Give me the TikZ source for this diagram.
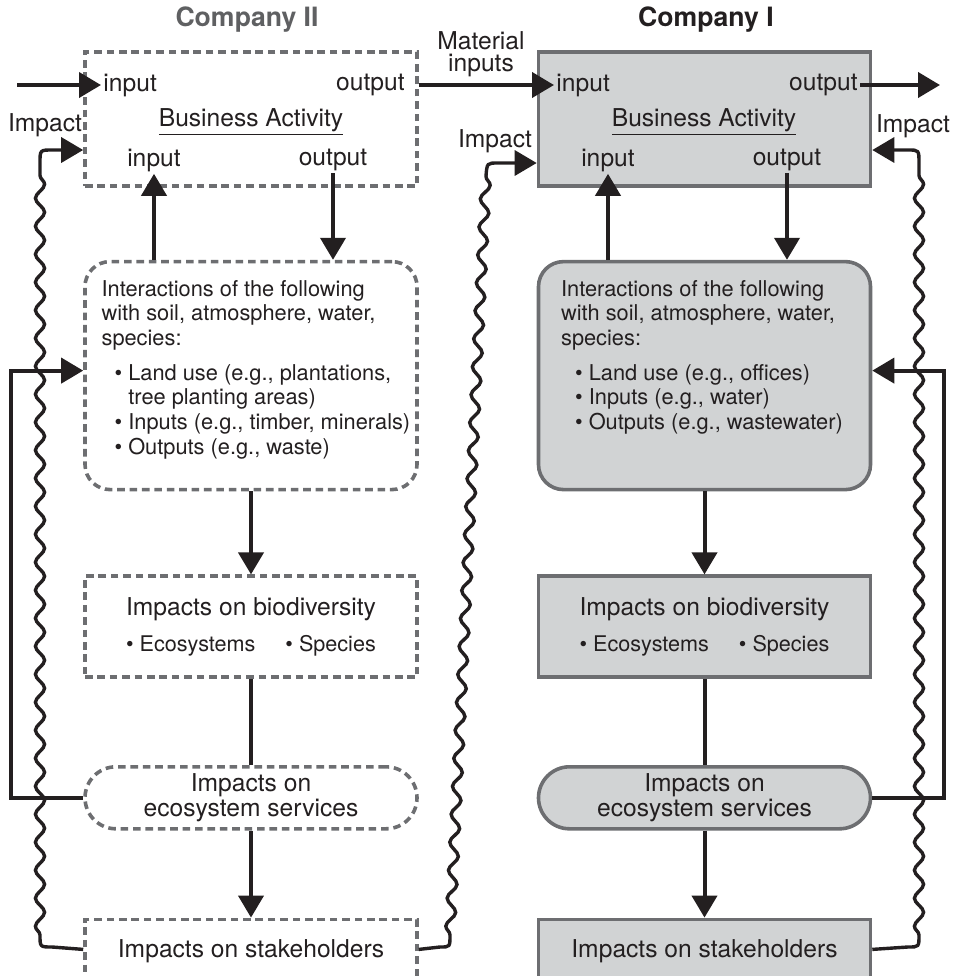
\documentclass[tikz,border=0pt]{standalone}
\usepackage{fontspec}
\setmainfont{TeX Gyre Heros}
\usepackage{tikz}
\usetikzlibrary{positioning,arrows.meta,decorations.pathmorphing}

\definecolor{boxgray}{HTML}{D1D3D4}
\definecolor{linegray}{HTML}{6D6E71}
\definecolor{headgray}{HTML}{5F6062}
\definecolor{ink}{HTML}{231F20}

\begin{document}
\begin{tikzpicture}[x=0.5pt,y=-0.5pt,>={Triangle[length=11pt,width=12.5pt]},
                    node distance=40pt]
  \tikzstyle{lbl}=[inner sep=1pt,text=ink,font=\fontsize{12.3}{11}\selectfont]
  \tikzstyle{box}=[draw=linegray,line width=1.8pt,minimum width=166pt,
                   text=ink,font=\fontsize{12.3}{12.5}\selectfont,align=center]
  \tikzstyle{solidbox}=[box,fill=boxgray]
  \tikzstyle{dashbox}=[box,dash pattern=on 3.8pt off 2.4pt]
  \tikzstyle{notes}=[inner sep=0pt,anchor=north west,align=left,text=ink,
                     font=\fontsize{10.9}{12.4}\selectfont]
  \tikzstyle{flow}=[->,ink,line width=2pt]
  \tikzstyle{impact}=[->,ink,line width=1.7pt,
                      decoration={snake,amplitude=2.3pt,segment length=14pt}]

  \useasboundingbox (0,0) rectangle (956,976);

  \node[lbl,font=\bfseries\fontsize{13.3}{15}\selectfont,text=headgray] (co2) at (247,20) {Company II};
  \node[lbl,font=\bfseries\fontsize{13.3}{15}\selectfont] (co1) at (706,20) {Company I};

  % Company II
  \node[dashbox,minimum height=67pt]                           (ba2) at (251,119) {};
  \node[dashbox,minimum height=114pt,rounded corners=12.5pt,
        below=36pt of ba2]                                      (int2) {};
  \node[dashbox,minimum height=50.5pt,below=41.5pt of int2]    (bio2)
       {Impacts on biodiversity\\[5.3pt]{\fontsize{10.8}{12}\selectfont
        \textbullet\ Ecosystems\hspace{15pt}\textbullet\ Species}};
  \node[dashbox,minimum height=31pt,rounded corners=15.5pt,
        below=43pt of bio2]                                     (eco2) {Impacts on\\ecosystem services};
  \node[dashbox,inner ysep=7pt,text height=12pt,text depth=10pt,
        below=43.5pt of eco2]                                   (st2) {Impacts on stakeholders};

  % Company I
  \node[solidbox,minimum height=67pt]                          (ba1) at (704.5,119) {};
  \node[solidbox,minimum height=114pt,rounded corners=12.5pt,
        below=36pt of ba1]                                      (int1) {};
  \node[solidbox,minimum height=50.5pt,below=41.5pt of int1]   (bio1)
       {Impacts on biodiversity\\[5.3pt]{\fontsize{10.8}{12}\selectfont
        \textbullet\ Ecosystems\hspace{15pt}\textbullet\ Species}};
  \node[solidbox,minimum height=31pt,rounded corners=15.5pt,
        below=43pt of bio1]                                     (eco1) {Impacts on\\ecosystem services};
  \node[solidbox,inner ysep=7pt,text height=12pt,text depth=10pt,
        below=43.5pt of eco1]                                   (st1) {Impacts on stakeholders};

  % texts in the business activity boxes
  \node[lbl,anchor=west] (in2a)  at (101,85)  {input};
  \node[lbl,anchor=east] (out2a) at (407,85)  {output};
  \node[lbl]             (ba2t)  at (251,122) {\underline{Business Activity}};
  \node[lbl]             (in2b)  at (154,160) {input};
  \node[lbl]             (out2b) at (333,160) {output};

  \node[lbl,anchor=west] (in1a)  at (554,85)  {input};
  \node[lbl,anchor=east] (out1a) at (860,85)  {output};
  \node[lbl]             (ba1t)  at (704,122) {\underline{Business Activity}};
  \node[lbl]             (in1b)  at (608,160) {input};
  \node[lbl]             (out1b) at (787,160) {output};

  \node[notes] (int2t) at ([xshift=9pt,yshift=-10pt]int2.north west)
       {Interactions of the following\\
        with soil, atmosphere, water,\\
        species:\\[4.75pt]
        \hspace*{6.5pt}\textbullet\ Land use (e.g., plantations,\\
        \hspace*{13.4pt}tree planting areas)\\
        \hspace*{6.5pt}\textbullet\ Inputs (e.g., timber, minerals)\\
        \hspace*{6.5pt}\textbullet\ Outputs (e.g., waste)};
  \node[notes] (int1t) at ([xshift=12pt,yshift=-10pt]int1.north west)
       {Interactions of the following\\
        with soil, atmosphere, water,\\
        species:\\[4.75pt]
        \hspace*{7pt}\textbullet\ Land use (e.g., offices)\\
        \hspace*{7pt}\textbullet\ Inputs (e.g., water)\\
        \hspace*{7pt}\textbullet\ Outputs (e.g., wastewater)};

  \node[lbl,align=center] (mat) at (481,54) {Material\\inputs};
  \node[lbl] (impL) at (45,125)  {Impact};
  \node[lbl] (impM) at (495,141) {Impact};
  \node[lbl] (impR) at (913,126) {Impact};

  \coordinate (src) at (17,85);
  \coordinate (sink) at (940,85);

  % material flow
  \draw[flow] (src) -- (in2a.west);
  \draw[flow] (ba2.east |- out2a) -- (in1a.west);
  \draw[flow] (out1a.east) -- (sink);

  \draw[flow] (int2.north -| in2b) -- (in2b.south);
  \draw[flow] (out2b.south) -- (int2.north -| out2b);
  \draw[flow] (int2) -- (bio2);
  \draw[flow,-] (bio2) -- (eco2);
  \draw[flow] (eco2) -- (st2);
  \draw[flow] (eco2.west) -- ++(-72,0) |- ([yshift=2.5pt]int2.west);

  \draw[flow] (int1.north -| in1b) -- (in1b.south);
  \draw[flow] (out1b.south) -- (int1.north -| out1b);
  \draw[flow] (int1) -- (bio1);
  \draw[flow,-] (bio1) -- (eco1);
  \draw[flow] (eco1) -- (st1);
  \draw[flow] (eco1.east) -- ++(72,0) |- ([yshift=2.5pt]int1.east);

  % impacts back to the business activities
  \draw[impact] ([yshift=3pt]st2.west) -- (52,947) .. controls (40,947) .. (40,935)
        decorate {-- (40,163)} .. controls (40,150) .. (52,150) -- ([yshift=-15.5pt]ba2.west);
  \draw[impact] ([yshift=3pt]st2.east) -- (440,947) .. controls (450,947) .. (450,935)
        decorate {-- (486,176)} .. controls (487,163) .. (498,163) -- ([yshift=-22pt]ba1.west);
  \draw[impact] ([yshift=3pt]st1.east) -- (908,947) .. controls (919,947) .. (919,935)
        decorate {-- (919,163)} .. controls (919,150) .. (908,150) -- ([yshift=-15.5pt]ba1.east);
\end{tikzpicture}
\end{document}
